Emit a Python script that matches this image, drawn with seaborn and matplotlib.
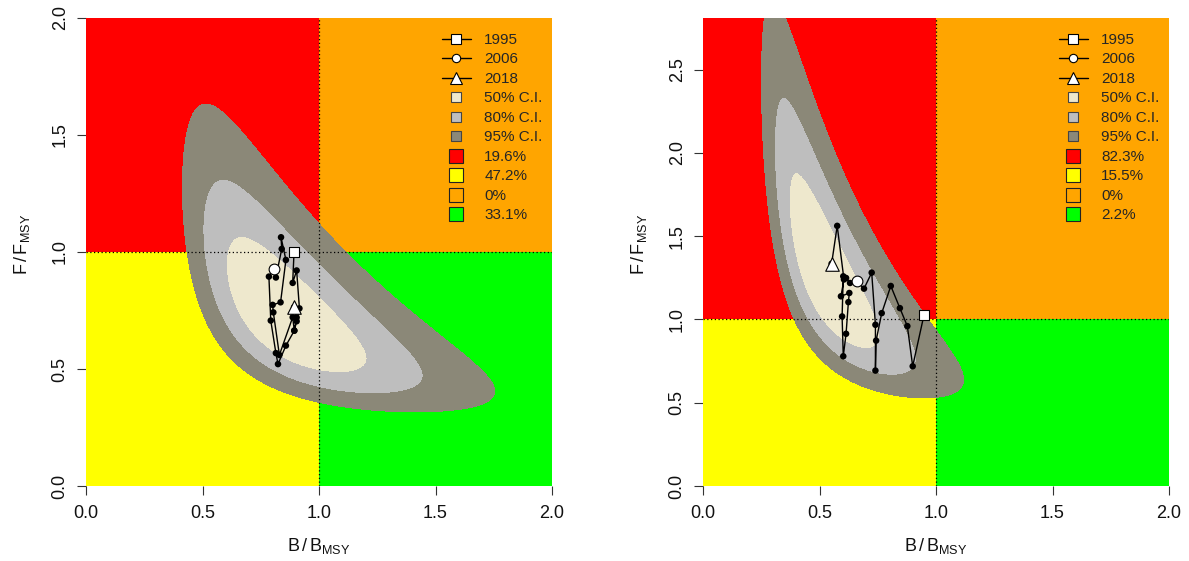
import numpy as np
import pandas as pd
import matplotlib
matplotlib.use("Agg")
import matplotlib.pyplot as plt
from matplotlib.lines import Line2D
from matplotlib.ticker import FormatStrFormatter
import seaborn as sns

# ---- data -------------------------------------------------------------
years = list(range(1995, 2019))
key_years = [1995, 2006, 2018]

# stock trajectory, panel A
bb_a = [0.893, 0.887, 0.904, 0.916, 0.904, 0.894, 0.858, 0.824, 0.815, 0.793,
        0.785, 0.807, 0.815, 0.840, 0.837, 0.858, 0.835, 0.801, 0.804, 0.830,
        0.887, 0.894, 0.904, 0.893]
ff_a = [1.002, 0.868, 0.921, 0.759, 0.704, 0.664, 0.600, 0.521, 0.568, 0.707,
        0.895, 0.928, 0.891, 1.013, 1.063, 0.966, 0.785, 0.774, 0.742, 0.560,
        0.721, 0.664, 0.720, 0.764]

# stock trajectory, panel B
bb_b = [0.948, 0.900, 0.877, 0.845, 0.806, 0.767, 0.743, 0.740, 0.740, 0.724,
        0.691, 0.660, 0.631, 0.614, 0.602, 0.597, 0.602, 0.614, 0.624, 0.628,
        0.592, 0.605, 0.576, 0.552]
ff_b = [1.024, 0.719, 0.960, 1.068, 1.201, 1.038, 0.873, 0.693, 0.968, 1.281,
        1.185, 1.229, 1.219, 1.249, 1.259, 1.018, 0.779, 0.914, 1.104, 1.159,
        1.139, 1.240, 1.562, 1.335]

# joint uncertainty of the terminal year
# (log-normal: mean log B, mean log F, sd log B, sd log F, correlation)
unc_a = [-0.16, -0.33, 0.295, 0.335, -0.70]
unc_b = [-0.635, 0.22, 0.305, 0.35, -0.78]

ci_levels = [0.50, 0.80, 0.95]
ci_labels = ["50% C.I.", "80% C.I.", "95% C.I."]

# probability of being in each quadrant (red, yellow, orange, green)
quad_prob_a = ["19.6%", "47.2%", "0%", "33.1%"]
quad_prob_b = ["82.3%", "15.5%", "0%", "2.2%"]

ymax_a = 2.0
ymax_b = 2.81
yticks_a = [0.0, 0.5, 1.0, 1.5, 2.0]
yticks_b = [0.0, 0.5, 1.0, 1.5, 2.0, 2.5]
xticks = [0.0, 0.5, 1.0, 1.5, 2.0]

# ---- style ------------------------------------------------------------
sns.set_theme(style="ticks")
plt.rcParams["font.family"] = ["Liberation Sans", "DejaVu Sans"]
plt.rcParams["mathtext.fontset"] = "custom"
plt.rcParams["mathtext.rm"] = "Liberation Sans"
plt.rcParams["mathtext.it"] = "Liberation Sans:italic"
plt.rcParams["mathtext.bf"] = "Liberation Sans:bold"

QUAD_COLORS = ["#FF0000", "#FFFF00", "#FFA500", "#00FF00"]
CI_COLORS = ["#EEE8CD", "#BEBEBE", "#8B8878"]  # cornsilk2, grey, cornsilk4


def kobe_panel(ax, bb, ff, unc, quad_prob, ymax, yticks):
    # quadrants
    ax.fill_between([0, 1], 1, ymax, color=QUAD_COLORS[0], lw=0, zorder=1)
    ax.fill_between([0, 1], 0, 1, color=QUAD_COLORS[1], lw=0, zorder=1)
    ax.fill_between([1, 2], 1, ymax, color=QUAD_COLORS[2], lw=0, zorder=1)
    ax.fill_between([1, 2], 0, 1, color=QUAD_COLORS[3], lw=0, zorder=1)

    # confidence regions from a bivariate log-normal
    mb, mf, sb, sf, rho = unc
    gb = np.linspace(0.005, 2.0, 700)
    gf = np.linspace(0.005, ymax, 700)
    GB, GF = np.meshgrid(gb, gf)
    zx = (np.log(GB) - mb) / sb
    zy = (np.log(GF) - mf) / sf
    d2 = (zx ** 2 + zy ** 2 - 2 * rho * zx * zy) / (1 - rho ** 2)
    q = [-2 * np.log(1 - p) for p in ci_levels]
    ax.contourf(GB, GF, d2, levels=[0] + q, colors=CI_COLORS, zorder=2)

    # reference lines
    ax.axvline(1.0, color="black", lw=0.9, ls=(0, (1, 2)), zorder=3)
    ax.axhline(1.0, color="black", lw=0.9, ls=(0, (1, 2)), zorder=3)

    # trajectory
    df = pd.DataFrame({"year": years, "B": bb, "F": ff})
    sns.lineplot(data=df, x="B", y="F", sort=False, estimator=None,
                 color="black", lw=1.0, ax=ax, zorder=4)
    sns.scatterplot(data=df, x="B", y="F", color="black", s=22,
                    edgecolor="none", ax=ax, zorder=5, legend=False)
    for yr, mk, sz in zip(key_years, ["s", "o", "^"], [60, 60, 95]):
        sub = df[df["year"] == yr]
        sns.scatterplot(data=sub, x="B", y="F", marker=mk, s=sz, color="white",
                        edgecolor="black", linewidth=0.8, ax=ax, zorder=6,
                        legend=False)

    ax.set_xlim(0, 2)
    ax.set_ylim(0, ymax)
    ax.set_xticks(xticks)
    ax.set_yticks(yticks)
    ax.xaxis.set_major_formatter(FormatStrFormatter("%.1f"))
    ax.yaxis.set_major_formatter(FormatStrFormatter("%.1f"))
    for s in ax.spines.values():
        s.set_visible(False)
    ax.tick_params(axis="both", direction="out", length=6.5, width=0.8,
                   color="#333333", labelsize=13, labelcolor="#111111")
    ax.tick_params(axis="x", pad=7)
    ax.tick_params(axis="y", pad=6)
    for lab in ax.get_yticklabels():
        lab.set_rotation(90)
        lab.set_va("center")

    ax.set_xlabel(r"$\mathrm{B\,/\,B_{MSY}}$", fontsize=13, color="#111111")
    ax.set_ylabel(r"$\mathrm{F\,/\,F_{MSY}}$", fontsize=13, color="#111111")
    ax.xaxis.label.set_va("center")
    ax.yaxis.label.set_va("center")
    ax.xaxis.set_label_coords(0.5, -0.128)
    ax.yaxis.set_label_coords(-0.137, 0.517)

    # legend
    handles, labels = [], []
    for yr, mk, ms in zip(key_years, ["s", "o", "^"], [6.5, 6.0, 8.0]):
        handles.append(Line2D([], [], color="black", lw=1.0, marker=mk, ms=ms,
                              mfc="white", mec="black", mew=0.8))
        labels.append(str(yr))
    for c, lab in zip(CI_COLORS, ci_labels):
        handles.append(Line2D([], [], ls="none", marker="s", ms=7, mfc=c,
                              mec="#444444", mew=0.8))
        labels.append(lab)
    for c, lab in zip(QUAD_COLORS, quad_prob):
        handles.append(Line2D([], [], ls="none", marker="s", ms=9.5, mfc=c,
                              mec="#222222", mew=0.8))
        labels.append(lab)
    leg = ax.legend(handles, labels, loc="upper left",
                    bbox_to_anchor=(0.763, 0.968), frameon=False,
                    fontsize=11, handlelength=1.9, handletextpad=0.9,
                    labelspacing=0.36, borderpad=0, borderaxespad=0)
    leg.set_zorder(10)


fig = plt.figure(figsize=(11.89, 5.61), dpi=100)
fig.patch.set_facecolor("white")
ax_a = fig.add_axes([86 / 1189, 1 - 486 / 561, 466 / 1189, 468 / 561])
ax_b = fig.add_axes([703 / 1189, 1 - 486 / 561, 466 / 1189, 468 / 561])

kobe_panel(ax_a, bb_a, ff_a, unc_a, quad_prob_a, ymax_a, yticks_a)
kobe_panel(ax_b, bb_b, ff_b, unc_b, quad_prob_b, ymax_b, yticks_b)

fig.savefig("out.png", dpi=100, facecolor="white")
